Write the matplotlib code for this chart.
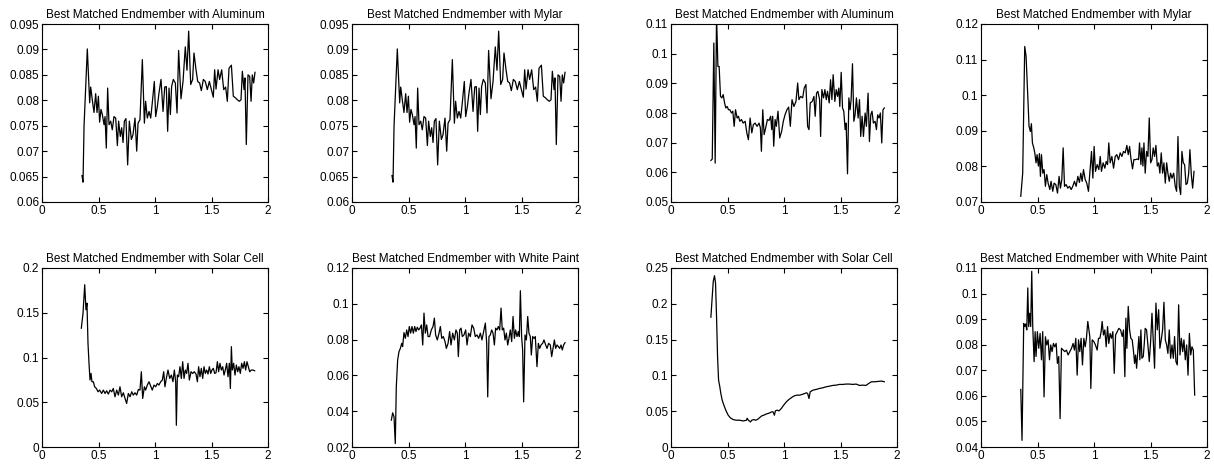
import numpy as np
import matplotlib
matplotlib.use("Agg")
import matplotlib.pyplot as plt
from matplotlib.ticker import FuncFormatter

plt.rcParams['font.family'] = ['Liberation Sans', 'DejaVu Sans']

# Aluminum / Mylar (top-left pair, same curve)
x_a = [0.354, 0.363, 0.372, 0.401, 0.422, 0.431, 0.445, 0.460, 0.475, 0.487, 0.499, 0.510, 0.522, 0.534,
       0.549, 0.558, 0.569, 0.581, 0.593, 0.608, 0.622, 0.637, 0.652, 0.667, 0.678, 0.693, 0.705, 0.717,
       0.729, 0.743, 0.758, 0.773, 0.791, 0.805, 0.823, 0.838, 0.850, 0.867, 0.888, 0.906, 0.917, 0.932,
       0.947, 0.962, 0.976, 0.994, 1.006, 1.021, 1.035, 1.053, 1.071, 1.086, 1.100, 1.112, 1.124, 1.136,
       1.147, 1.162, 1.180, 1.195, 1.209, 1.230, 1.248, 1.268, 1.283, 1.298, 1.316, 1.333, 1.345, 1.363,
       1.378, 1.395, 1.410, 1.428, 1.445, 1.463, 1.481, 1.499, 1.516, 1.528, 1.540, 1.558, 1.572, 1.590,
       1.608, 1.625, 1.640, 1.655, 1.676, 1.693, 1.711, 1.729, 1.746, 1.761, 1.773, 1.788, 1.796, 1.808,
       1.823, 1.838, 1.850, 1.861, 1.873, 1.885]
y_a = [0.0652, 0.0639, 0.0749, 0.0901, 0.0795, 0.0826, 0.0801, 0.0776, 0.0813, 0.0776, 0.0808, 0.0757,
       0.0782, 0.0772, 0.0752, 0.0768, 0.0706, 0.0824, 0.0752, 0.0759, 0.0742, 0.0768, 0.0765, 0.0711,
       0.0759, 0.0729, 0.0746, 0.0717, 0.0759, 0.0764, 0.0673, 0.0759, 0.0723, 0.0732, 0.0765, 0.0700,
       0.0755, 0.0762, 0.0880, 0.0755, 0.0798, 0.0765, 0.0778, 0.0765, 0.0795, 0.0837, 0.0768, 0.0788,
       0.0814, 0.0841, 0.0778, 0.0826, 0.0827, 0.0739, 0.0824, 0.0772, 0.0827, 0.0841, 0.0834, 0.0775,
       0.0898, 0.0803, 0.0837, 0.0905, 0.0859, 0.0936, 0.0831, 0.0841, 0.0893, 0.0860, 0.0837, 0.0834,
       0.0819, 0.0841, 0.0837, 0.0821, 0.0837, 0.0821, 0.0806, 0.0860, 0.0822, 0.0860, 0.0841, 0.0860,
       0.0821, 0.0826, 0.0798, 0.0863, 0.0869, 0.0808, 0.0805, 0.0801, 0.0798, 0.0801, 0.0857, 0.0821,
       0.0844, 0.0713, 0.0850, 0.0847, 0.0798, 0.0850, 0.0834, 0.0855]

# Aluminum (top, third panel)
x_b = [0.353, 0.365, 0.379, 0.391, 0.403, 0.415, 0.426, 0.438, 0.450, 0.462, 0.474, 0.485, 0.497, 0.509,
       0.521, 0.535, 0.547, 0.559, 0.571, 0.585, 0.597, 0.609, 0.624, 0.638, 0.656, 0.671, 0.685, 0.700,
       0.715, 0.729, 0.744, 0.762, 0.779, 0.791, 0.800, 0.812, 0.824, 0.838, 0.853, 0.868, 0.882, 0.891,
       0.900, 0.909, 0.921, 0.932, 0.947, 0.962, 0.979, 0.994, 1.009, 1.026, 1.041, 1.056, 1.071, 1.088,
       1.106, 1.121, 1.132, 1.147, 1.165, 1.179, 1.194, 1.209, 1.221, 1.232, 1.250, 1.265, 1.276, 1.288,
       1.300, 1.315, 1.324, 1.335, 1.350, 1.362, 1.374, 1.385, 1.400, 1.412, 1.424, 1.435, 1.450, 1.462,
       1.474, 1.485, 1.494, 1.506, 1.518, 1.529, 1.541, 1.550, 1.562, 1.574, 1.585, 1.594, 1.606, 1.618,
       1.629, 1.641, 1.656, 1.668, 1.679, 1.691, 1.703, 1.718, 1.729, 1.744, 1.756, 1.768, 1.779, 1.791,
       1.806, 1.818, 1.829, 1.841, 1.853, 1.865, 1.876, 1.888]
y_b = [0.0640, 0.0645, 0.1036, 0.0631, 0.1130, 0.0957, 0.0957, 0.0856, 0.0851, 0.0862, 0.0834, 0.0817,
       0.0822, 0.0811, 0.0811, 0.0800, 0.0806, 0.0755, 0.0811, 0.0783, 0.0789, 0.0772, 0.0778, 0.0766,
       0.0772, 0.0733, 0.0710, 0.0783, 0.0733, 0.0761, 0.0766, 0.0755, 0.0766, 0.0750, 0.0671, 0.0811,
       0.0727, 0.0750, 0.0778, 0.0775, 0.0789, 0.0744, 0.0789, 0.0688, 0.0778, 0.0755, 0.0806, 0.0716,
       0.0738, 0.0772, 0.0794, 0.0811, 0.0820, 0.0755, 0.0845, 0.0822, 0.0839, 0.0901, 0.0845, 0.0856,
       0.0851, 0.0884, 0.0896, 0.0755, 0.0744, 0.0834, 0.0839, 0.0856, 0.0789, 0.0867, 0.0873, 0.0845,
       0.0721, 0.0879, 0.0851, 0.0879, 0.0845, 0.0873, 0.0834, 0.0912, 0.0845, 0.0929, 0.0839, 0.0879,
       0.0856, 0.0884, 0.0822, 0.0937, 0.0817, 0.0806, 0.0744, 0.0766, 0.0595, 0.0851, 0.0811, 0.0845,
       0.0966, 0.0772, 0.0794, 0.0851, 0.0783, 0.0845, 0.0721, 0.0789, 0.0721, 0.0800, 0.0755, 0.0867,
       0.0704, 0.0794, 0.0806, 0.0766, 0.0772, 0.0744, 0.0794, 0.0783, 0.0800, 0.0699, 0.0811, 0.0817]

# Mylar (top, fourth panel)
x_c = [0.352, 0.369, 0.387, 0.399, 0.414, 0.425, 0.437, 0.446, 0.455, 0.467, 0.476, 0.487, 0.496, 0.508,
       0.517, 0.526, 0.535, 0.547, 0.558, 0.570, 0.582, 0.594, 0.609, 0.620, 0.635, 0.647, 0.662, 0.677,
       0.691, 0.703, 0.715, 0.727, 0.739, 0.753, 0.768, 0.783, 0.798, 0.812, 0.827, 0.842, 0.857, 0.871,
       0.883, 0.895, 0.907, 0.922, 0.936, 0.951, 0.963, 0.978, 0.990, 1.001, 1.013, 1.028, 1.043, 1.055,
       1.066, 1.081, 1.096, 1.108, 1.120, 1.131, 1.143, 1.158, 1.173, 1.188, 1.202, 1.217, 1.232, 1.247,
       1.261, 1.276, 1.291, 1.303, 1.315, 1.326, 1.341, 1.353, 1.368, 1.383, 1.394, 1.403, 1.415, 1.424,
       1.433, 1.442, 1.453, 1.465, 1.477, 1.489, 1.501, 1.513, 1.524, 1.536, 1.548, 1.560, 1.572, 1.583,
       1.595, 1.607, 1.619, 1.631, 1.643, 1.654, 1.666, 1.678, 1.690, 1.705, 1.719, 1.731, 1.743, 1.755,
       1.767, 1.778, 1.790, 1.802, 1.814, 1.826, 1.838, 1.849, 1.861, 1.873, 1.885]
y_c = [0.0716, 0.0781, 0.1137, 0.1109, 0.0997, 0.0913, 0.0898, 0.0920, 0.0866, 0.0852, 0.0838, 0.0810,
       0.0833, 0.0801, 0.0836, 0.0772, 0.0833, 0.0781, 0.0791, 0.0744, 0.0777, 0.0753, 0.0735, 0.0758,
       0.0730, 0.0753, 0.0749, 0.0725, 0.0772, 0.0739, 0.0763, 0.0852, 0.0744, 0.0749, 0.0739, 0.0744,
       0.0735, 0.0744, 0.0758, 0.0744, 0.0772, 0.0755, 0.0781, 0.0758, 0.0791, 0.0763, 0.0753, 0.0730,
       0.0781, 0.0842, 0.0767, 0.0856, 0.0786, 0.0805, 0.0791, 0.0828, 0.0786, 0.0810, 0.0795, 0.0814,
       0.0805, 0.0866, 0.0810, 0.0828, 0.0795, 0.0828, 0.0833, 0.0819, 0.0838, 0.0828, 0.0842, 0.0838,
       0.0859, 0.0833, 0.0856, 0.0824, 0.0793, 0.0819, 0.0819, 0.0821, 0.0819, 0.0866, 0.0805, 0.0852,
       0.0801, 0.0866, 0.0781, 0.0842, 0.0828, 0.0936, 0.0810, 0.0819, 0.0852, 0.0828, 0.0859, 0.0801,
       0.0810, 0.0781, 0.0838, 0.0781, 0.0810, 0.0753, 0.0810, 0.0781, 0.0758, 0.0781, 0.0767, 0.0781,
       0.0744, 0.0730, 0.0884, 0.0744, 0.0721, 0.0842, 0.0810, 0.0805, 0.0749, 0.0753, 0.0781, 0.0847,
       0.0777, 0.0739, 0.0786]

# Solar Cell (bottom, first panel)
x_d = [0.348, 0.363, 0.378, 0.389, 0.398, 0.407, 0.416, 0.425, 0.434, 0.442, 0.454, 0.466, 0.481, 0.496,
       0.510, 0.528, 0.543, 0.558, 0.572, 0.587, 0.602, 0.617, 0.631, 0.646, 0.661, 0.676, 0.690, 0.705,
       0.720, 0.735, 0.749, 0.764, 0.779, 0.794, 0.808, 0.823, 0.838, 0.853, 0.867, 0.879, 0.891, 0.906,
       0.917, 0.932, 0.947, 0.962, 0.976, 0.991, 1.006, 1.021, 1.035, 1.050, 1.065, 1.077, 1.088, 1.100,
       1.115, 1.130, 1.145, 1.159, 1.171, 1.183, 1.189, 1.198, 1.209, 1.221, 1.233, 1.245, 1.257, 1.268,
       1.280, 1.292, 1.304, 1.319, 1.333, 1.348, 1.363, 1.375, 1.386, 1.398, 1.410, 1.422, 1.434, 1.445,
       1.457, 1.469, 1.481, 1.493, 1.504, 1.516, 1.528, 1.540, 1.552, 1.563, 1.575, 1.587, 1.599, 1.611,
       1.622, 1.634, 1.646, 1.658, 1.667, 1.676, 1.684, 1.696, 1.708, 1.720, 1.732, 1.743, 1.755, 1.767,
       1.779, 1.791, 1.802, 1.814, 1.826, 1.838, 1.853, 1.867, 1.882]
y_d = [0.1327, 0.1495, 0.1813, 0.1533, 0.1607, 0.1159, 0.0935, 0.0748, 0.0822, 0.0729, 0.0729, 0.0673,
       0.0654, 0.0617, 0.0636, 0.0598, 0.0636, 0.0598, 0.0628, 0.0591, 0.0636, 0.0617, 0.0654, 0.0561,
       0.0636, 0.0580, 0.0673, 0.0561, 0.0606, 0.0542, 0.0486, 0.0598, 0.0561, 0.0617, 0.0580, 0.0606,
       0.0580, 0.0643, 0.0636, 0.0841, 0.0542, 0.0673, 0.0636, 0.0692, 0.0729, 0.0680, 0.0636, 0.0692,
       0.0673, 0.0710, 0.0692, 0.0729, 0.0748, 0.0841, 0.0673, 0.0766, 0.0860, 0.0766, 0.0804, 0.0729,
       0.0860, 0.0729, 0.0243, 0.0804, 0.0785, 0.0897, 0.0766, 0.0953, 0.0766, 0.0860, 0.0822, 0.0935,
       0.0748, 0.0841, 0.0822, 0.0841, 0.0815, 0.0729, 0.0897, 0.0785, 0.0879, 0.0766, 0.0897, 0.0822,
       0.0860, 0.0815, 0.0897, 0.0822, 0.0860, 0.0879, 0.0822, 0.0830, 0.0953, 0.0841, 0.0935, 0.0860,
       0.0897, 0.0804, 0.0860, 0.0935, 0.0785, 0.0935, 0.0654, 0.1121, 0.0860, 0.0935, 0.0804, 0.0916,
       0.0841, 0.0897, 0.0822, 0.0935, 0.0879, 0.0953, 0.0860, 0.0953, 0.0897, 0.0841, 0.0860, 0.0860,
       0.0852]

# White Paint (bottom, second panel)
x_e = [0.348, 0.360, 0.372, 0.383, 0.392, 0.404, 0.416, 0.428, 0.440, 0.448, 0.460, 0.472, 0.484, 0.496,
       0.507, 0.519, 0.531, 0.543, 0.555, 0.566, 0.578, 0.590, 0.602, 0.614, 0.626, 0.637, 0.649, 0.661,
       0.673, 0.687, 0.702, 0.717, 0.729, 0.740, 0.755, 0.770, 0.782, 0.794, 0.808, 0.823, 0.835, 0.850,
       0.864, 0.876, 0.891, 0.906, 0.920, 0.932, 0.941, 0.953, 0.965, 0.976, 0.991, 1.006, 1.018, 1.032,
       1.047, 1.062, 1.077, 1.091, 1.106, 1.121, 1.136, 1.150, 1.165, 1.180, 1.192, 1.201, 1.212, 1.224,
       1.236, 1.248, 1.260, 1.271, 1.283, 1.295, 1.307, 1.319, 1.330, 1.342, 1.354, 1.366, 1.378, 1.389,
       1.401, 1.413, 1.425, 1.437, 1.448, 1.460, 1.472, 1.481, 1.490, 1.501, 1.510, 1.519, 1.531, 1.543,
       1.555, 1.566, 1.578, 1.587, 1.599, 1.611, 1.622, 1.637, 1.649, 1.661, 1.673, 1.687, 1.699, 1.714,
       1.726, 1.740, 1.755, 1.767, 1.779, 1.791, 1.802, 1.814, 1.826, 1.838, 1.850, 1.861, 1.873, 1.885]
y_e = [0.0350, 0.0391, 0.0368, 0.0219, 0.0536, 0.0686, 0.0733, 0.0751, 0.0779, 0.0761, 0.0839, 0.0807,
       0.0854, 0.0817, 0.0873, 0.0836, 0.0873, 0.0836, 0.0873, 0.0845, 0.0869, 0.0854, 0.0864, 0.0882,
       0.0770, 0.0948, 0.0836, 0.0882, 0.0817, 0.0817, 0.0854, 0.0873, 0.0920, 0.0826, 0.0798, 0.0836,
       0.0873, 0.0807, 0.0817, 0.0789, 0.0751, 0.0779, 0.0845, 0.0770, 0.0836, 0.0798, 0.0854, 0.0836,
       0.0705, 0.0854, 0.0864, 0.0817, 0.0826, 0.0854, 0.0770, 0.0836, 0.0817, 0.0882, 0.0864, 0.0817,
       0.0826, 0.0807, 0.0836, 0.0798, 0.0845, 0.0892, 0.0779, 0.0480, 0.0817, 0.0826, 0.0854, 0.0836,
       0.0770, 0.0864, 0.0854, 0.0873, 0.0854, 0.0976, 0.0854, 0.0864, 0.0798, 0.0836, 0.0770, 0.0807,
       0.0854, 0.0789, 0.0929, 0.0807, 0.0854, 0.0817, 0.0845, 0.0817, 0.1073, 0.0817, 0.0742, 0.0452,
       0.0826, 0.0798, 0.0929, 0.0836, 0.0817, 0.0714, 0.0817, 0.0807, 0.0817, 0.0649, 0.0779, 0.0751,
       0.0770, 0.0779, 0.0798, 0.0770, 0.0751, 0.0779, 0.0770, 0.0705, 0.0751, 0.0798, 0.0751, 0.0770,
       0.0761, 0.0751, 0.0770, 0.0742, 0.0770, 0.0783]

# Solar Cell (bottom, third panel)
x_f = [0.353, 0.365, 0.374, 0.385, 0.394, 0.403, 0.412, 0.421, 0.432, 0.441, 0.453, 0.468, 0.485, 0.506,
       0.526, 0.550, 0.579, 0.609, 0.638, 0.668, 0.674, 0.685, 0.703, 0.715, 0.732, 0.750, 0.768, 0.785,
       0.803, 0.821, 0.838, 0.856, 0.874, 0.891, 0.903, 0.915, 0.924, 0.938, 0.956, 0.976, 0.997, 1.021,
       1.044, 1.068, 1.091, 1.115, 1.138, 1.168, 1.185, 1.197, 1.209, 1.221, 1.232, 1.256, 1.285, 1.315,
       1.344, 1.374, 1.403, 1.432, 1.462, 1.491, 1.521, 1.550, 1.579, 1.609, 1.638, 1.668, 1.697, 1.726,
       1.750, 1.774, 1.803, 1.832, 1.862, 1.888]
y_f = [0.1813, 0.2103, 0.2313, 0.2393, 0.2290, 0.1822, 0.1262, 0.0935, 0.0841, 0.0748, 0.0654, 0.0584,
       0.0514, 0.0444, 0.0407, 0.0383, 0.0374, 0.0374, 0.0364, 0.0374, 0.0402, 0.0374, 0.0350, 0.0374,
       0.0383, 0.0374, 0.0388, 0.0411, 0.0435, 0.0444, 0.0458, 0.0467, 0.0477, 0.0491, 0.0491, 0.0444,
       0.0505, 0.0514, 0.0505, 0.0537, 0.0584, 0.0631, 0.0664, 0.0692, 0.0715, 0.0724, 0.0724, 0.0738,
       0.0748, 0.0757, 0.0748, 0.0678, 0.0771, 0.0794, 0.0804, 0.0818, 0.0827, 0.0841, 0.0850, 0.0860,
       0.0864, 0.0874, 0.0874, 0.0879, 0.0879, 0.0874, 0.0879, 0.0860, 0.0864, 0.0860, 0.0888, 0.0911,
       0.0911, 0.0916, 0.0921, 0.0911]

# White Paint (bottom, fourth panel)
x_g = [0.352, 0.363, 0.378, 0.387, 0.396, 0.405, 0.414, 0.422, 0.431, 0.440, 0.449, 0.458, 0.470, 0.479,
       0.487, 0.499, 0.511, 0.523, 0.535, 0.546, 0.558, 0.570, 0.582, 0.594, 0.606, 0.617, 0.629, 0.641,
       0.653, 0.665, 0.676, 0.688, 0.700, 0.712, 0.727, 0.741, 0.756, 0.771, 0.786, 0.801, 0.815, 0.827,
       0.839, 0.851, 0.863, 0.874, 0.886, 0.898, 0.910, 0.922, 0.933, 0.945, 0.963, 0.972, 0.984, 0.999,
       1.013, 1.028, 1.040, 1.052, 1.063, 1.072, 1.084, 1.096, 1.108, 1.120, 1.131, 1.143, 1.155, 1.167,
       1.179, 1.191, 1.205, 1.220, 1.235, 1.250, 1.261, 1.273, 1.282, 1.291, 1.303, 1.315, 1.326, 1.338,
       1.350, 1.359, 1.368, 1.377, 1.386, 1.397, 1.406, 1.415, 1.424, 1.436, 1.445, 1.453, 1.465, 1.477,
       1.489, 1.501, 1.513, 1.524, 1.536, 1.548, 1.560, 1.572, 1.583, 1.595, 1.607, 1.619, 1.631, 1.643,
       1.654, 1.666, 1.678, 1.690, 1.702, 1.713, 1.725, 1.737, 1.749, 1.761, 1.773, 1.785, 1.796, 1.808,
       1.820, 1.832, 1.844, 1.856, 1.867, 1.879, 1.891]
y_g = [0.0625, 0.0426, 0.0883, 0.0871, 0.0881, 0.0858, 0.1022, 0.0871, 0.0923, 0.0871, 0.1087, 0.0871,
       0.0734, 0.0851, 0.0754, 0.0851, 0.0786, 0.0844, 0.0741, 0.0851, 0.0596, 0.0831, 0.0799, 0.0819,
       0.0741, 0.0799, 0.0773, 0.0805, 0.0792, 0.0805, 0.0727, 0.0754, 0.0511, 0.0786, 0.0779, 0.0773,
       0.0779, 0.0760, 0.0773, 0.0786, 0.0805, 0.0779, 0.0825, 0.0681, 0.0819, 0.0773, 0.0825, 0.0721,
       0.0825, 0.0792, 0.0825, 0.0891, 0.0832, 0.0629, 0.0819, 0.0812, 0.0799, 0.0779, 0.0825, 0.0825,
       0.0851, 0.0891, 0.0838, 0.0858, 0.0792, 0.0871, 0.0805, 0.0844, 0.0825, 0.0851, 0.0688, 0.0838,
       0.0851, 0.0864, 0.0858, 0.0832, 0.0858, 0.0675, 0.0904, 0.0786, 0.0950, 0.0858, 0.0825, 0.0819,
       0.0773, 0.0727, 0.0760, 0.0708, 0.0766, 0.0832, 0.0741, 0.0858, 0.0747, 0.0754, 0.0805, 0.0864,
       0.0858, 0.0799, 0.0734, 0.0812, 0.0923, 0.0819, 0.0708, 0.0963, 0.0858, 0.0937, 0.0786, 0.0819,
       0.0858, 0.0966, 0.0819, 0.0799, 0.0766, 0.0858, 0.0747, 0.0799, 0.0747, 0.0832, 0.0734, 0.0721,
       0.0956, 0.0760, 0.0825, 0.0773, 0.0819, 0.0741, 0.0799, 0.0681, 0.0844, 0.0760, 0.0792, 0.0779,
       0.0603]

titles = ['Best Matched Endmember with Aluminum', 'Best Matched Endmember with Mylar',
          'Best Matched Endmember with Aluminum', 'Best Matched Endmember with Mylar',
          'Best Matched Endmember with Solar Cell', 'Best Matched Endmember with White Paint',
          'Best Matched Endmember with Solar Cell', 'Best Matched Endmember with White Paint']
series = [(x_a, y_a), (x_a, y_a), (x_b, y_b), (x_c, y_c),
          (x_d, y_d), (x_e, y_e), (x_f, y_f), (x_g, y_g)]
ylims = [(0.06, 0.095), (0.06, 0.095), (0.05, 0.11), (0.07, 0.12),
         (0, 0.2), (0.02, 0.12), (0, 0.25), (0.04, 0.11)]
ysteps = [0.005, 0.005, 0.01, 0.01, 0.05, 0.02, 0.05, 0.01]

W, H = 1214, 467
fig = plt.figure(figsize=(W / 100, H / 100), dpi=100)
lefts = [42, 352, 671, 981]
rows = [(24, 202), (268, 447)]

fmt = FuncFormatter(lambda v, p: '%g' % round(v, 4))

for i in range(8):
    r, c = divmod(i, 4)
    top, bot = rows[r]
    ax = fig.add_axes([lefts[c] / W, 1 - bot / H, 226 / W, (bot - top) / H])
    x, y = series[i]
    ax.plot(x, y, color='black', lw=0.9)
    ax.set_xlim(0, 2)
    lo, hi = ylims[i]
    ax.set_ylim(lo, hi)
    ax.set_xticks([0, 0.5, 1, 1.5, 2])
    ax.set_yticks(np.round(np.arange(lo, hi + ysteps[i] / 2, ysteps[i]), 4))
    ax.xaxis.set_major_formatter(fmt)
    ax.yaxis.set_major_formatter(fmt)
    ax.tick_params(direction='in', top=True, right=True, length=3.5, width=0.8,
                   labelsize=8.5, pad=2)
    for s in ax.spines.values():
        s.set_linewidth(0.8)
    ax.set_title(titles[i], fontsize=8.5, pad=4)

fig.savefig('out.png', dpi=100)
